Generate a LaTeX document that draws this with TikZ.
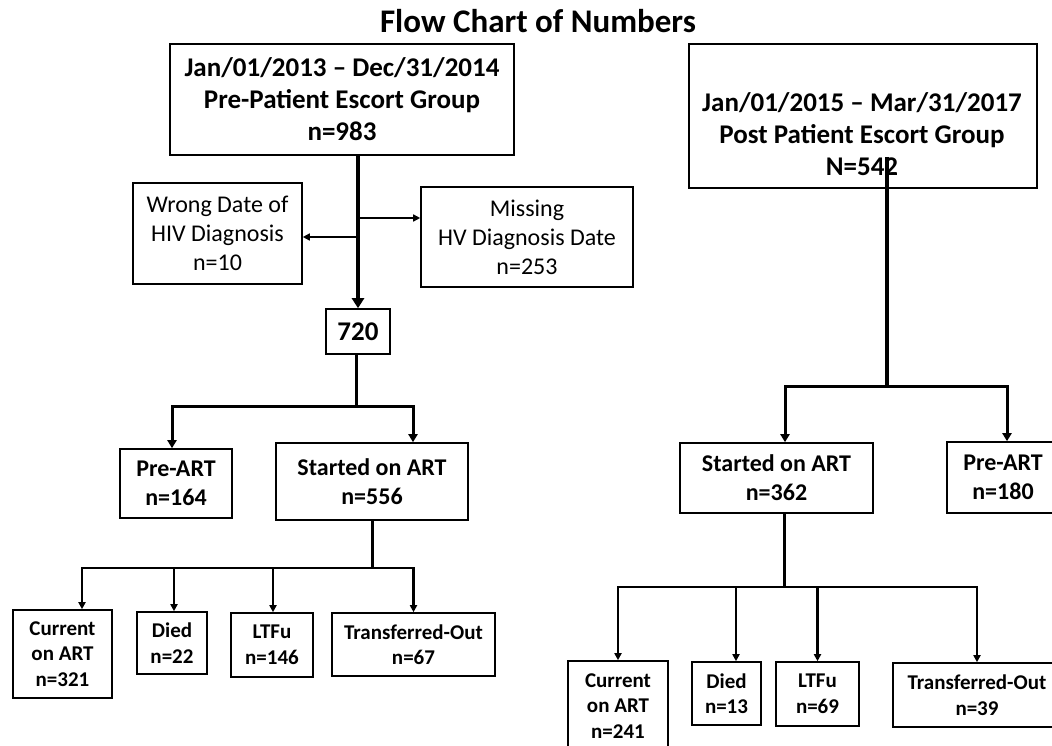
\documentclass[tikz,border=0pt]{standalone}
\usepackage{fontspec}
\setmainfont{Carlito}
\usetikzlibrary{arrows.meta}
\begin{document}
\begin{tikzpicture}[x=1pt,y=-1pt,
  box/.style={draw, line width=1.6pt, inner sep=0pt, align=center},
  fbig/.style={font=\bfseries\fontsize{27}{32}\selectfont},
  fmid/.style={font=\bfseries\fontsize{24}{29}\selectfont},
  freg/.style={font=\fontsize{24}{29}\selectfont},
  fsmall/.style={font=\bfseries\fontsize{21}{25.5}\selectfont},
  mainline/.style={line width=4pt},
  midline/.style={line width=3pt},
  thinline/.style={line width=2.2pt},
  sideline/.style={line width=1.6pt},
  bigtip/.style={-{Triangle[length=10pt,width=12pt]}},
  midtip/.style={-{Triangle[length=8pt,width=9pt]}},
  smalltip/.style={-{Triangle[length=7pt,width=7pt]}}
]
\useasboundingbox (0,0) rectangle (1052,746);

\node[font=\bfseries\fontsize{33}{40}\selectfont] (title) at (538,21) {Flow Chart of Numbers};

% left branch
\node[box,fbig,minimum width=344pt,minimum height=111pt] (top) at (342,99.5)
  {Jan/01/2013 -- Dec/31/2014\\Pre-Patient Escort Group\\n=983};
\node[box,freg,minimum width=169pt,minimum height=101pt] (wrong) at (217.5,233.5)
  {Wrong Date of\\HIV Diagnosis\\n=10};
\node[box,freg,minimum width=212pt,minimum height=100pt] (missing) at (527,237)
  {Missing\\HV Diagnosis Date\\n=253};
\node[box,fbig,minimum width=64pt,minimum height=45pt] (n720) at (358,331.5) {720};
\node[box,fmid,minimum width=112pt,minimum height=69pt] (preL) at (176,483.5) {Pre-ART\\n=164};
\node[box,fmid,minimum width=192pt,minimum height=77pt] (startL) at (372,481.5) {Started on ART\\n=556};
\node[box,fsmall,minimum width=99pt,minimum height=88pt] (curL) at (62.5,654) {Current\\on ART\\n=321};
\node[box,fsmall,minimum width=70pt,minimum height=62pt] (diedL) at (172,643) {Died\\n=22};
\node[box,fsmall,minimum width=82pt,minimum height=64pt] (ltfuL) at (272,645) {LTFu\\n=146};
\node[box,fsmall,minimum width=163pt,minimum height=63pt] (trL) at (413.5,644.5) {Transferred-Out\\n=67};

% right branch
\node[box,minimum width=348pt,minimum height=144pt] (topR) at (863,116) {};
\node[fbig,align=center,inner sep=0pt] (topRtext) at (862,134)
  {Jan/01/2015 -- Mar/31/2017\\Post Patient Escort Group\\N=542};
\node[box,fmid,minimum width=193pt,minimum height=70pt] (startR) at (776.5,478) {Started on ART\\n=362};
\node[box,fmid,minimum width=112pt,minimum height=71pt] (preR) at (1003,477.5) {Pre-ART\\n=180};
\node[box,fsmall,minimum width=100pt,minimum height=90pt] (curR) at (618,706) {Current\\on ART\\n=241};
\node[box,fsmall,minimum width=69pt,minimum height=63pt] (diedR) at (726.5,693.5) {Died\\n=13};
\node[box,fsmall,minimum width=83pt,minimum height=64pt] (ltfuR) at (817.5,694) {LTFu\\n=69};
\node[box,fsmall,minimum width=168pt,minimum height=64pt] (trR) at (977,695) {Transferred-Out\\n=39};

% connectors left
\draw[mainline,bigtip] (top.south -| n720.north) -- (n720.north);
\draw[sideline,smalltip] ([yshift=-3.5pt]wrong.east -| n720.north) -- ([yshift=-3.5pt]wrong.east);
\draw[sideline,smalltip] ([yshift=19pt]missing.west -| n720.north) -- ([yshift=19pt]missing.west);
\coordinate (bL) at (356,406);
\draw[midline] (n720.south -| bL) -- (bL);
\draw[midline,midtip] (bL) -| ([xshift=-4pt]preL.north);
\draw[midline,midtip] (bL) -| ([xshift=41pt]startL.north);
\coordinate (cL) at (372,568);
\draw[midline] (startL.south) -- (cL);
\draw[thinline,smalltip] (cL) -| ([xshift=19.5pt]curL.north);
\draw[thinline,smalltip] (cL) -| ([xshift=2pt]diedL.north);
\draw[thinline,smalltip] (cL) -| ([xshift=1pt]ltfuL.north);
\draw[thinline,smalltip] (cL) -| (trL.north);

% connectors right
\coordinate (rs) at (887,157);
\coordinate (bR) at (887,386);
\draw[mainline] (rs) -- (bR);
\draw[midline,midtip] (bR) -| ([xshift=8.5pt]startR.north);
\draw[midline,midtip] (bR) -| ([xshift=4pt]preR.north);
\coordinate (cR) at (784,587);
\draw[midline] ([xshift=7.5pt]startR.south) -- (cR);
\draw[thinline,smalltip] (cR) -| (curR.north);
\draw[thinline,smalltip] (cR) -| ([xshift=9.5pt]diedR.north);
\draw[thinline,smalltip] (cR) -| (ltfuR.north);
\draw[thinline,smalltip] (cR) -| (trR.north);
\end{tikzpicture}
\end{document}
